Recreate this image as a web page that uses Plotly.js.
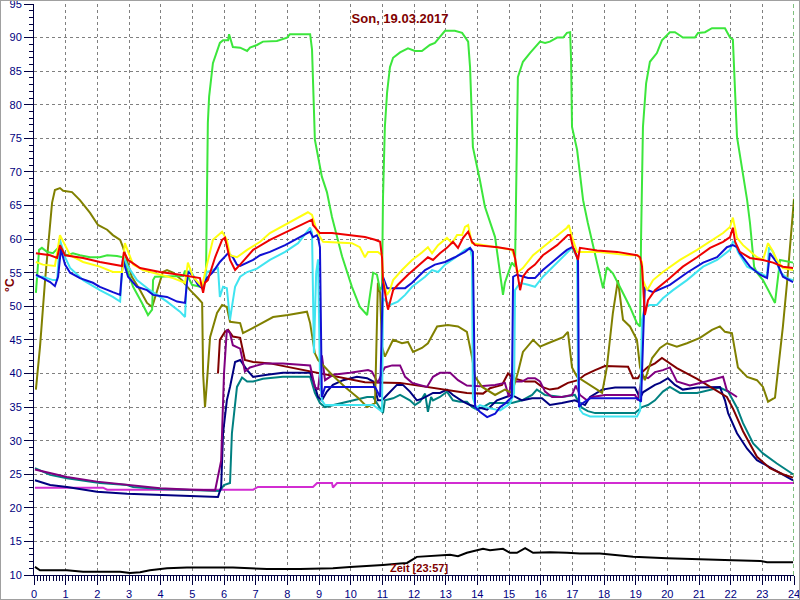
<!DOCTYPE html>
<html>
<head>
<meta charset="utf-8">
<script src="https://cdn.plot.ly/plotly-3.0.1.min.js"></script>
<style>
html,body{margin:0;padding:0;background:#ffffff;}
#chart{width:798px;height:598px;border:1px solid #a0a0a0;}
</style>
</head>
<body>
<div id="chart"></div>
<script>
// ---- data (hours of day, °C) ----
const greenT = [0.06,0.16,0.25,0.41,0.6,0.76,0.88,1.04,1.23,1.45,1.77,2.08,2.31,2.62,2.81,2.94,3.13,3.41,3.6,3.73,3.76,3.82,4.71,4.77,4.86,4.99,5.24,5.34,5.43,5.46,5.49,5.53,5.65,5.87,5.97,6.13,6.16,6.28,6.51,6.73,6.82,7.04,7.23,7.67,7.99,8.08,8.72,8.78,8.87,9.09,9.25,9.41,9.73,10.04,10.29,10.52,10.71,10.83,10.93,10.99,11.02,11.08,11.15,11.24,11.34,11.56,11.81,12.03,12.25,12.5,12.66,12.98,13.29,13.52,13.71,13.77,13.83,13.86,14.08,14.24,14.56,14.81,14.87,15.09,15.19,15.22,15.25,15.28,15.44,15.66,15.98,16.14,16.29,16.52,16.71,16.83,16.93,16.96,16.99,17.15,17.34,17.49,17.78,17.97,18.09,18.28,18.5,18.82,19.04,19.14,19.17,19.23,19.33,19.45,19.67,19.83,20.08,20.24,20.34,20.49,20.87,20.97,21.19,21.41,21.82,21.98,22.07,22.14,22.2,22.52,22.61,22.74,22.83,23.02,23.24,23.4,23.56,23.72,23.97];
const greenV = [52,58.4,58.7,58.1,57.9,58.7,58.1,57.6,57.9,57.6,57.3,57.3,57.6,57.5,57.3,55.4,52.9,50.5,48.7,49.5,53.9,54.4,54.5,55.3,54.4,53.2,52.9,53,53.9,66,77.3,81.2,86.2,89.2,89.6,89.6,90.5,88.6,88.5,88,88.5,88.9,89.4,89.5,90,90.5,90.5,88.2,74.8,69.3,67,63.3,57.4,52.9,49.9,48.7,55,54.7,52.4,52.9,66,76.7,81.8,85.6,87,87.8,88.4,88,88,88.9,89.2,91,91,90.7,89.4,85.6,78.2,73.7,68.8,64.8,60.3,51.7,53.5,56.5,55.9,66,80.7,84.1,86.4,87.7,89.4,89.2,89.4,90,90,90.7,90.8,86.7,76.7,73.3,65.8,62.4,56.5,52.7,55.8,54.9,52.9,49.9,47.5,47,60,76.7,83.2,86.4,87.7,89.6,90.8,90.8,90.5,90,90,90.7,90.8,91.4,91.4,90,89.7,80.7,75.2,65.8,62.4,55.9,55,53.9,52,50.5,56.9,56.7,56.5];

const yellowT = [0.06,0.28,0.66,0.82,0.98,1.14,1.55,2.08,2.49,2.78,2.87,2.97,3.13,3.44,3.98,4.39,4.77,4.86,5.02,5.31,5.4,5.65,5.94,6.09,6.19,6.41,6.73,7.14,7.45,8.65,8.78,8.94,9.03,9.13,10.04,10.29,10.45,10.55,10.86,10.99,11.02,11.15,11.24,11.34,11.62,11.94,12.25,12.44,12.57,12.76,13.04,13.2,13.36,13.52,13.61,13.71,13.83,14.65,15.09,15.19,15.25,15.44,15.76,16.07,16.52,16.83,16.89,16.99,17.15,17.78,18.82,19.07,19.2,19.23,19.36,19.55,19.86,20.4,20.94,21.35,21.76,21.98,22.07,22.2,22.39,22.83,23.02,23.18,23.31,23.46,23.65,23.97];
const yellowV = [56.6,56.2,56.0,60.6,59.1,57.6,56.6,55.9,55.1,55.1,59.4,58.1,56.2,55.4,54.7,54.2,53.5,56.5,54.4,52.9,55,59.9,61.1,59.9,57.6,57.3,58.4,59.6,60.9,64,63.6,61.1,60.3,59.6,59.4,58.8,57.3,58.1,58.1,57.6,53.9,51.7,52.4,53.9,55.4,56.9,58.0,58.8,57.9,59.1,60.2,59.4,60.6,60.6,61.8,62.1,59.4,58.8,58.4,57.2,55,55.7,57.6,58.8,60.6,61.7,62.1,60.3,58.1,58.1,57.6,57.6,56.6,53.9,52.4,53.9,55.1,56.9,58.4,59.6,60.9,61.8,63.2,60.2,59.1,57.3,56.9,59.4,58.4,56.9,55.7,55.4];

const redT = [0.06,0.51,0.73,0.82,0.98,1.55,2.08,2.78,2.84,2.97,3.35,3.98,4.61,5.24,5.34,5.4,5.49,5.72,5.94,6.03,6.19,6.35,6.51,6.92,7.45,8.78,8.81,9.03,9.41,10.45,10.77,10.93,10.99,11.02,11.15,11.18,11.34,11.49,11.81,12.25,12.44,12.6,12.82,13.04,13.23,13.39,13.55,13.71,13.83,13.93,14.65,15.13,15.19,15.25,15.35,15.44,15.6,15.82,16.07,16.52,16.86,16.93,17.02,17.18,17.24,17.78,18.41,19.04,19.14,19.2,19.23,19.29,19.39,19.61,20.08,20.49,20.94,21.35,21.76,21.98,22.07,22.14,22.29,22.61,23.02,23.34,23.65,23.97];
const redV = [57.9,57.6,57.2,59.1,57.6,57.2,56.6,56.0,58.1,56.9,55.7,55.1,54.7,54.2,52.0,53.5,53.9,57.3,59.9,60.2,56.9,55.4,56.2,58.4,59.9,62.9,62.1,60.9,60.9,60.3,59.9,59.6,57.3,53.9,50.2,49.5,52.4,53.2,54.7,56.5,57.3,56.9,57.9,58.7,59.6,58.7,60.2,61.1,59.6,59.1,58.8,58.4,57.2,55.4,52.4,54.4,55.4,56.2,57.6,59.1,60.6,60.6,58.8,56.9,58.7,58.3,58.1,57.6,57.3,55.9,52.9,48.7,50.9,52.4,54.2,55.9,57.3,58.7,59.6,60.3,61.7,59.6,58.1,57.2,56.9,56.5,55.9,55.7];

const blueT = [0.06,0.28,0.51,0.66,0.76,0.85,0.98,1.14,1.45,1.86,2.08,2.49,2.72,2.81,2.97,3.25,3.57,3.76,4.2,4.52,4.77,4.86,4.99,5.18,5.31,5.46,5.65,5.87,6.13,6.28,6.41,6.51,6.92,7.14,7.45,7.93,8.34,8.72,8.81,8.94,8.97,9.03,9.09,9.19,10.77,10.93,11.02,11.15,11.72,11.94,12.13,12.35,12.66,12.98,13.29,13.61,13.77,13.86,13.93,14.08,14.31,14.56,14.72,14.87,15.09,15.13,15.25,15.6,15.82,16.07,16.52,16.83,16.99,17.08,17.18,17.21,17.3,17.56,19.04,19.17,19.29,19.39,19.55,20.08,20.62,21.13,21.57,21.88,22.07,22.2,22.29,22.61,22.93,23.15,23.24,23.46,23.65,23.97];
const blueV = [54.7,54.2,53.6,53.0,54.4,58.5,56.2,55.0,54.2,53.5,52.9,52.1,51.7,56.9,54.4,52.9,52.4,51.7,51.4,50.7,50.5,55.1,54.7,53.2,52.7,54.2,55.1,56.6,57.9,57.3,56.2,56.0,56.9,57.6,58.1,59.1,60.2,61.1,60.3,60.6,60.2,58.8,36.5,38.0,38.0,36.5,54.4,52.7,52.7,53.5,54.4,55.4,56.2,56.6,57.3,58.1,58.7,58.1,35.0,34.3,33.5,34.0,35.0,35.5,36.5,54.4,54.7,54.2,54.2,55.4,57.2,58.4,58.8,58.4,56.9,35.0,35.5,36.3,36.3,35.8,52.9,52.4,52.1,53.2,55.0,56.5,57.3,58.8,59.1,58.8,57.9,55.9,54.7,54.2,57.9,56.5,54.4,53.6];

const cyanT = [0.06,0.28,0.6,0.73,0.82,0.98,1.14,1.55,2.08,2.49,2.72,2.81,2.97,3.25,3.66,4.2,4.61,4.77,4.83,4.93,5.15,5.31,5.4,5.46,5.65,5.81,5.87,5.97,6.09,6.19,6.25,6.35,6.51,6.73,7.04,7.45,7.93,8.34,8.72,8.78,8.84,8.91,8.97,9.03,9.09,9.19,10.71,10.99,11.02,11.24,11.49,11.72,11.94,12.35,12.57,12.76,12.98,13.29,13.61,13.77,13.83,13.86,13.96,14.08,14.4,14.72,15.03,15.16,15.19,15.35,15.6,15.82,16.07,16.52,16.83,16.99,17.15,17.18,17.24,17.34,17.56,19.04,19.14,19.2,19.29,19.45,19.67,19.86,20.18,20.62,21.13,21.57,21.98,22.07,22.14,22.23,22.52,22.93,23.15,23.21,23.34,23.56,23.78,23.97];
const cyanV = [54.4,54.4,53.9,53.9,59.9,57.3,55.7,53.9,52.4,51.4,50.7,57.5,55.9,53.9,52.4,50.7,49.2,48.4,54.9,55.4,53.6,52.9,53.9,55.1,55.4,55.7,51.4,52.9,52.7,48.0,49.9,52.9,54.4,55.1,55.6,56.9,58.1,59.4,61.7,61.0,43.0,55.0,57.0,40.0,36.0,35.3,35.3,34.3,51.2,50.2,50.7,51.7,52.9,54.4,55.4,55.1,56.2,57.2,58.4,58.7,57.3,36.4,34.8,35.3,34.8,34.5,35.5,37.0,52.4,53.5,53.2,52.9,54.4,56.5,58.1,58.7,57.3,39.0,34.6,34.0,33.6,33.6,34.5,48.0,49.9,50.2,50.2,51.2,52.4,53.9,55.9,56.9,58.4,59.6,59.4,58.1,55.9,55.0,54.4,58.8,58.1,55.1,54.2,53.9];

const oliveT = [0.06,0.19,0.35,0.57,0.66,0.82,0.92,1.2,1.45,1.77,2.02,2.31,2.49,2.72,2.81,2.94,3.09,3.35,3.57,3.73,3.92,4.07,4.2,4.39,4.67,4.93,5.18,5.31,5.34,5.4,5.46,5.56,5.78,5.94,6.09,6.19,6.51,6.6,6.92,7.36,7.55,8.02,8.62,8.72,8.87,8.97,9.41,9.82,10.23,10.52,10.77,10.86,10.93,10.99,11.08,11.34,11.62,11.81,11.97,12.25,12.44,12.73,13.07,13.39,13.67,13.83,13.93,14.15,14.56,14.87,15.09,15.28,15.44,15.76,15.98,16.23,16.52,16.71,16.86,16.99,17.15,17.46,17.78,17.94,18.09,18.28,18.44,18.6,18.82,19.04,19.14,19.29,19.52,19.77,19.99,20.3,20.62,21.03,21.41,21.66,21.82,22.04,22.23,22.52,22.83,23.02,23.18,23.4,23.65,23.78,24.0];
const oliveV = [37.6,44,53.9,65.4,67.3,67.6,67.2,67.0,65.8,63.9,62.1,61.4,60.6,59.9,58.8,56.6,54.4,52.4,50.5,49.9,52.9,55.1,55.4,55.0,53.9,52.4,51.2,50.5,40,35,38.6,45.4,49,50.2,49.9,47.7,47.5,46.0,46.8,48.0,48.4,48.7,49.2,47.5,43.0,42.0,39.8,38.0,36.4,35.0,35.6,53.5,52,44,42.5,45.0,44.5,44.7,43.2,43.8,44.5,47.0,47.2,47.0,46.2,42.5,39.5,38.0,36.8,37.6,37.1,40.1,43.2,45.0,44.0,44.5,45.0,45.4,46.2,40.9,39.5,38.6,37.6,37.1,40.9,49,53.9,48,47,45,40.9,39.0,42.3,43.8,44.5,44.0,44.5,45.3,46.5,47.0,46.2,46.0,40.9,39.5,39.0,38.0,35.8,36.4,47,53.5,66];

const maroonT = [5.81,5.87,6.03,6.13,6.28,6.51,6.66,6.92,7.45,8.87,10.45,11.56,12.6,13.67,14.18,14.4,14.56,14.78,14.97,15.13,15.51,15.82,16.04,16.29,16.55,16.86,17.18,17.4,17.72,18.03,18.76,18.92,19.07,19.2,19.39,19.61,19.83,20.3,20.94,21.44,21.88,22.07,22.39,22.83,23.24,23.65,23.97];
const maroonV = [40,45,46.2,46.5,45.5,45.3,42,41.7,41.5,40.2,38.7,38.6,37.9,37.1,37.0,37.8,38.0,38.3,40,39.3,38.8,38.8,38,37.6,37.8,38.6,39,39.8,40.5,41.1,41,39.3,39.3,40.2,41,41.5,42.3,40.8,39.2,37.8,36.5,34.8,31.4,27.6,25.9,25.0,24.5];

const purpleT = [0.03,1.04,1.99,3.03,3.98,5.02,5.72,5.91,6.0,6.09,6.19,6.28,6.51,6.66,6.82,7.29,7.86,8.72,8.87,8.97,9.09,9.19,9.44,9.98,10.55,10.67,10.77,10.86,10.99,11.08,11.31,11.56,11.72,11.94,12.41,12.6,12.82,13.14,13.39,13.67,14.08,14.56,14.87,15.0,15.09,15.19,15.41,15.6,15.82,15.98,16.14,16.36,16.67,16.99,17.11,17.24,17.46,17.62,18.03,18.98,19.07,19.2,19.39,19.61,19.86,20.08,20.3,20.71,21.13,21.57,21.76,21.88,22.2];
const purpleV = [25.7,24.6,23.9,23.4,22.9,22.7,22.6,27,40,46.5,46,44.2,43.7,40.3,40.9,41.5,41.5,41.2,38,37.6,42.7,39,39.8,40.1,40.5,40.3,39.5,38.6,40.1,40.9,41.2,41.2,39.5,38.6,38,39.5,40.1,40.1,39,38.2,38.1,38.3,38.6,36.5,40.1,38.8,38.8,39.3,39.3,38.8,37.3,36.5,36.5,36.8,38.2,36.8,36.0,36.5,36.8,36.8,36.0,39.6,39.3,40.2,40.5,40.9,38.8,38.2,38.7,39.2,39.5,37.5,36.5];

const navyT = [0.03,0.51,1.04,1.99,2.94,3.98,5.02,5.81,5.91,5.97,6.09,6.19,6.35,6.51,6.73,6.92,7.36,7.86,8.72,8.81,8.97,9.09,9.25,9.44,9.76,10.2,10.52,10.71,10.86,10.99,11.15,11.46,11.65,11.87,12.09,12.28,12.6,12.82,13.04,13.23,13.55,13.77,13.99,14.31,14.62,15.09,15.41,15.73,16.04,16.29,16.67,17.08,17.4,17.56,17.94,18.35,18.98,19.14,19.23,19.61,19.77,20.02,20.24,20.49,20.94,21.66,21.82,21.92,22.2,22.52,22.83,23.34,23.97];
const navyV = [24.1,23.4,23.1,22.4,22.1,21.9,21.7,21.6,23.1,31.1,36,38,41.7,42,40.5,39.5,39.8,40.1,40.1,39,36.5,36,37.3,38.3,39,39.5,39.3,38.8,36,36,36.8,38.3,38.3,37.3,36,36.3,37.1,37.1,37.6,36.8,35.8,35.3,35,34.6,36.0,36.8,36.0,36.3,36.3,35.3,35.6,36,35.3,36.5,37.6,37.9,37.9,36.3,37.2,38.3,38.6,39.3,38.3,37.6,37.9,38,36,34.1,31.1,28.8,27.1,25.7,24.1];

const tealT = [0.03,0.51,1.04,1.55,2.08,2.94,3.13,3.98,5.02,5.87,6.0,6.19,6.25,6.35,6.41,6.57,6.73,6.92,7.23,7.86,8.72,8.87,9.03,9.19,9.44,10.52,10.71,10.93,11.02,11.08,11.34,11.56,11.87,12.03,12.19,12.35,12.44,12.54,12.6,12.82,13.04,13.23,13.45,13.67,13.83,13.99,14.18,14.4,15.09,15.41,15.73,15.88,16.14,16.67,17.08,17.3,17.49,17.72,18.98,19.2,19.39,19.61,19.86,20.08,20.4,20.94,21.35,21.66,21.92,22.2,22.39,22.71,23.02,23.46,23.97];
const tealV = [25.9,24.9,24.4,24.1,23.7,23.4,23.1,22.8,22.6,22.5,23.4,23.7,31.1,36,38,39.4,38.8,38.8,39.2,39.5,39.5,37.1,35.6,35,35.3,36.5,36.5,34.9,34.1,36,36.3,36.8,36,35.3,35.8,37,34.3,36.5,36,36.5,37.3,36,35.8,35.8,35,34.6,35,35.6,35.6,36,36.8,37.6,36.8,36.5,36.8,34.9,34.4,34.1,34.1,35,35.3,36,37.3,38,37.1,37.1,37.6,37.9,37.3,34.9,32.6,29.6,28.1,26.6,25.0];

const magentaT = [0.03,2.18,2.31,6.92,7.07,8.81,8.94,9.41,9.44,9.57,24.0];
const magentaV = [23,23,22.7,22.7,23.1,23.1,23.7,23.7,23.0,23.7,23.7];

const blackT = [0.03,0.19,1.04,1.55,2.72,3.03,3.35,3.66,4.2,4.83,6.28,7.36,8.4,9.44,9.98,10.52,11.02,11.56,11.78,12.09,12.6,13.14,13.39,13.67,14.18,14.4,14.81,15.03,15.25,15.51,15.76,16.29,16.83,17.24,17.87,18.92,19.99,21.03,22.07,22.93,23.15,23.97];
const blackV = [11.2,10.7,10.7,10.5,10.5,10.3,10.4,10.7,11.0,11.1,11.1,10.9,10.9,11.0,11.2,11.3,11.5,11.7,11.8,12.7,12.8,13.0,12.8,13.3,13.9,13.7,13.9,13.3,13.3,14.0,13.3,13.4,13.3,13.2,13.2,12.7,12.5,12.4,12.2,12.1,11.9,11.9];

const xTickLabels = ['0','1','2','3','4','5','6','7','8','9','10','11','12','13','14','15','16','17','18','19','20','21','22','23','24'];
const titleText = 'Son, 19.03.2017';
const timeLabel = 'Zeit [23:57]';
const unitLabel = '°C';
const nowHour = 24;

// ---- drawing ----
const FONT = 'Liberation Sans, Arial, sans-serif';
function tr(x, y, color) {
  return {x: x, y: y, type: 'scatter', mode: 'lines', hoverinfo: 'skip',
          line: {color: color, width: 2}};
}
const traces = [
  tr(blackT, blackV, '#000000'),
  tr(magentaT, magentaV, '#d22cd2'),
  tr(tealT, tealV, '#008080'),
  tr(navyT, navyV, '#000080'),
  tr(maroonT, maroonV, '#800000'),
  tr(purpleT, purpleV, '#800080'),
  tr(oliveT, oliveV, '#808000'),
  tr(greenT, greenV, '#3ce63c'),
  tr(cyanT, cyanV, '#40e4f0'),
  tr(blueT, blueV, '#1010d4'),
  tr(yellowT, yellowV, '#ffff10'),
  tr(redT, redV, '#ee0000')
];

const axisCol = '#000040';
const layout = {
  width: 798, height: 598,
  margin: {l: 33, r: 5, t: 3, b: 24, pad: 0},
  paper_bgcolor: '#ffffff', plot_bgcolor: '#ffffff',
  showlegend: false,
  title: {text: '<b>' + titleText + '</b>', x: 0.5, xanchor: 'center', xref: 'container',
          y: 1 - 17 / 598, yanchor: 'middle', yref: 'container',
          font: {family: FONT, size: 13, color: '#800000'}},
  xaxis: {
    range: [0, 24], tickmode: 'array', tickvals: xTickLabels.map(Number), ticktext: xTickLabels,
    ticks: 'outside', ticklen: 9, tickwidth: 1, tickcolor: axisCol,
    showline: true, linecolor: axisCol, linewidth: 1,
    showgrid: true, gridcolor: '#808080', gridwidth: 1, griddash: '3px,3px',
    zeroline: false, ticklabeloverflow: 'allow',
    tickfont: {family: FONT, size: 11, color: '#000080'},
    minor: {dtick: 0.1, tick0: 0, ticks: 'outside', ticklen: 5, tickcolor: axisCol, showgrid: false},
    fixedrange: true
  },
  yaxis: {
    range: [10, 95], tickmode: 'linear', tick0: 10, dtick: 5,
    ticks: 'outside', ticklen: 9, tickwidth: 1, tickcolor: axisCol,
    showline: true, linecolor: axisCol, linewidth: 1,
    showgrid: true, gridcolor: '#808080', gridwidth: 1, griddash: '3px,3px',
    zeroline: false, ticklabeloverflow: 'allow',
    tickfont: {family: FONT, size: 11, color: '#000080'},
    minor: {dtick: 1, tick0: 10, ticks: 'outside', ticklen: 4, tickcolor: axisCol, showgrid: false},
    fixedrange: true
  },
  shapes: [
    {type: 'line', xref: 'x', yref: 'paper', x0: nowHour, x1: nowHour, y0: 0, y1: 1,
     line: {color: '#008000', width: 1, dash: '4px,3px'}}
  ],
  annotations: [
    {text: '<b>' + timeLabel + '</b>', xref: 'paper', yref: 'paper', x: 0.5066, y: 0.0123,
     xanchor: 'center', yanchor: 'middle', showarrow: false,
     font: {family: FONT, size: 11, color: '#800000'}},
    {text: '<b>' + unitLabel + '</b>', xref: 'paper', yref: 'paper', x: -0.0316, y: 0.508,
     xanchor: 'center', yanchor: 'middle', showarrow: false, textangle: -90,
     font: {family: FONT, size: 12, color: '#800000'}}
  ]
};

Plotly.newPlot('chart', traces, layout, {displayModeBar: false, staticPlot: true});
</script>
</body>
</html>
